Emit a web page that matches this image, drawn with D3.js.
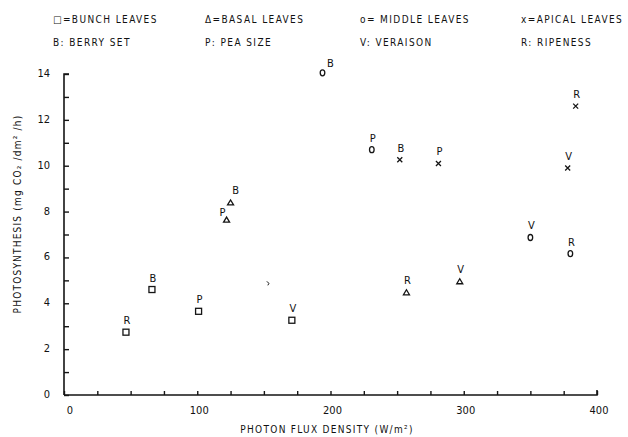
<!DOCTYPE html>
<html><head><meta charset="utf-8">
<script src="https://cdn.jsdelivr.net/npm/d3@7"></script>
<style>
body{margin:0;background:#fff;}
text{font-family:"DejaVu Sans Condensed","DejaVu Sans",sans-serif;fill:#111;}
</style></head>
<body><svg id="c" width="628" height="437"></svg>
<script>
// ---- data ----
const stages = ["B","P","V","R"];
const stageNames = ["B: BERRY SET","P: PEA SIZE","V: VERAISON","R: RIPENESS"];
const leafTypes = ["bunch","basal","middle","apical"];
const leafNames = ["\u25A1=BUNCH LEAVES","\u0394=BASAL LEAVES","o= MIDDLE LEAVES","x=APICAL LEAVES"];
// photon flux density (W/m2) and photosynthesis per stage B,P,V,R
const bunchX  = [66, 101, 171, 46.5];
const bunchY  = [4.6, 3.65, 3.26, 2.74];
const basalX  = [125, 122, 297, 257];
const basalY  = [8.4, 7.65, 4.96, 4.48];
const middleX = [194, 231, 350, 380];
const middleY = [14.05, 10.7, 6.87, 6.17];
const apicalX = [252, 281, 378, 384];
const apicalY = [10.26, 10.1, 9.9, 12.6];
const xTicks = [0,100,200,300,400];
const yTicks = [0,2,4,6,8,10,12,14];

const seriesX = [bunchX, basalX, middleX, apicalX];
const seriesY = [bunchY, basalY, middleY, apicalY];
const points = [];
leafTypes.forEach((t,i)=>stages.forEach((s,j)=>points.push({type:t, stage:s, x:seriesX[i][j], y:seriesY[i][j]})));

const svg = d3.select("#c");
const x = d3.scaleLinear().domain([0,400]).range([64,597]);
const y = d3.scaleLinear().domain([0,14]).range([395,74]);
const ink = "#151515";

// legend
const colX = [53, 205, 360, 521];
leafNames.forEach((n,i)=>svg.append("text").attr("x",colX[i]).attr("y",20).attr("font-size",10)
  .attr("letter-spacing",1.4).attr("dominant-baseline","middle").text(n));
stageNames.forEach((n,i)=>svg.append("text").attr("x",colX[i]).attr("y",43).attr("font-size",10)
  .attr("letter-spacing",1.4).attr("dominant-baseline","middle").text(n));

// axes
const gx = svg.append("g").attr("transform",`translate(0,${y(0)})`)
  .call(d3.axisBottom(x).tickValues(d3.range(0,401,25)).tickSize(-4).tickFormat(""));
const gy = svg.append("g").attr("transform",`translate(${x(0)},0)`)
  .call(d3.axisLeft(y).tickValues(d3.range(0,15,1)).tickSize(-5).tickFormat(""));
[gx,gy].forEach(g=>{g.select(".domain").attr("stroke",ink).attr("stroke-width",1.6);
  g.selectAll(".tick line").attr("stroke",ink).attr("stroke-width",1.4);});
gx.select(".domain").attr("d",`M${x(0)},0H${x(400)}V-5`);
gy.select(".domain").attr("d",`M0,${y(0)}V${y(14)}H5`);

svg.append("g").selectAll("text").data(xTicks).join("text")
  .attr("x",d=>x(d)+(d===0?6:2)).attr("y",411).attr("text-anchor","middle")
  .attr("dominant-baseline","middle").attr("font-size",11).text(d=>d);
svg.append("g").selectAll("text").data(yTicks).join("text")
  .attr("x",50).attr("y",d=>y(d)).attr("text-anchor","end")
  .attr("dominant-baseline","middle").attr("font-size",11).text(d=>d);

svg.append("text").attr("x",327).attr("y",430).attr("text-anchor","middle")
  .attr("dominant-baseline","middle").attr("font-size",10).attr("letter-spacing",1.3)
  .text("PHOTON FLUX DENSITY  (W/m\u00B2)");
svg.append("text").attr("transform","translate(18,214) rotate(-90)").attr("text-anchor","middle")
  .attr("dominant-baseline","middle").attr("font-size",10).attr("letter-spacing",1.2)
  .text("PHOTOSYNTHESIS  (mg  CO\u2082 /dm\u00B2 /h)");

// markers
const g = svg.append("g");
points.forEach(p=>{
  const cx = x(p.x), cy = y(p.y);
  if(p.type==="bunch"){
    g.append("rect").attr("x",cx-3).attr("y",cy-3).attr("width",6).attr("height",6)
      .attr("fill","none").attr("stroke",ink).attr("stroke-width",1.3);
  } else if(p.type==="basal"){
    g.append("path").attr("d",`M${cx-3},${cy+2.5}L${cx},${cy-2.5}L${cx+3},${cy+2.5}Z`)
      .attr("fill","none").attr("stroke",ink).attr("stroke-width",1.3);
  } else if(p.type==="middle"){
    g.append("ellipse").attr("cx",cx).attr("cy",cy).attr("rx",2.3).attr("ry",3)
      .attr("fill","none").attr("stroke",ink).attr("stroke-width",1.3);
  } else {
    g.append("path").attr("d",`M${cx-2.5},${cy-2.5}L${cx+2.5},${cy+2.5}M${cx+2.5},${cy-2.5}L${cx-2.5},${cy+2.5}`)
      .attr("stroke",ink).attr("stroke-width",1.3);
  }
  // label placement (crowded points nudged as in the original plot)
  let dx = 1, dy = -11;
  if(p.y>13.5){dx = 8; dy = -9;}
  if(p.type==="basal" && p.stage==="P"){dx = -4; dy = -7;}
  if(p.type==="basal" && p.stage==="B"){dx = 5; dy = -11;}
  g.append("text").attr("x",cx+dx).attr("y",cy+dy).attr("text-anchor","middle")
    .attr("dominant-baseline","middle").attr("font-size",11).text(p.stage);
});
// stray plotter mark
g.append("path").attr("d",`M${x(153)-1},${y(4.87)-2}L${x(153)+1},${y(4.87)}L${x(153)},${y(4.87)+2}`)
  .attr("fill","none").attr("stroke",ink).attr("stroke-width",1);
</script></body></html>
